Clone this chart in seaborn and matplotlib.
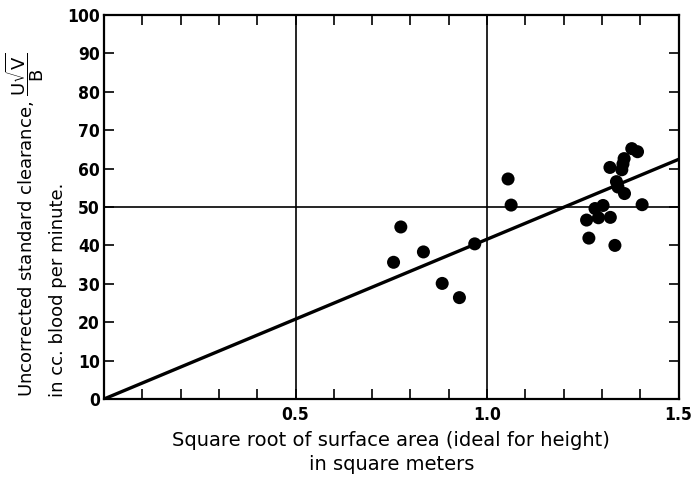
import numpy as np
import pandas as pd
import matplotlib
matplotlib.use("Agg")
import matplotlib.pyplot as plt
import seaborn as sns

# Data
x_vals = [0.756, 0.775, 0.834, 0.883, 0.928, 0.968, 1.055, 1.063, 1.260, 1.266,
          1.282, 1.291, 1.303, 1.322, 1.334, 1.321, 1.338, 1.342, 1.359, 1.352,
          1.355, 1.358, 1.378, 1.393, 1.405]
y_vals = [35.6, 44.8, 38.3, 30.1, 26.4, 40.4, 57.3, 50.5, 46.6, 41.9,
          49.6, 47.2, 50.4, 47.3, 40.0, 60.3, 56.6, 55.2, 53.5, 59.7,
          61.2, 62.6, 65.2, 64.4, 50.6]
line_x = [0.0, 1.5]
line_y = [0.0, 62.4]
y_ticks = [0, 10, 20, 30, 40, 50, 60, 70, 80, 90, 100]
x_tick_labels = {0.5: "0.5", 1.0: "1.0", 1.5: "1.5"}
grid_x = [0.5, 1.0]
grid_y = [50]

pts = pd.DataFrame({"x": x_vals, "y": y_vals})
reg = pd.DataFrame({"x": line_x, "y": line_y})

sns.set_style("white")
plt.rcParams["font.family"] = ["DejaVu Sans"]
plt.rcParams["text.color"] = "black"
plt.rcParams["mathtext.fontset"] = "dejavusans"

fig = plt.figure(figsize=(6.91, 4.84), dpi=100)
ax = fig.add_axes([104 / 691, 1 - 399 / 484, (678.5 - 104) / 691, (399 - 15) / 484])

for gx in grid_x:
    ax.axvline(gx, color="black", lw=1.2, zorder=1)
for gy in grid_y:
    ax.axhline(gy, color="black", lw=1.2, zorder=1)

sns.lineplot(data=reg, x="x", y="y", ax=ax, color="black", lw=2.4, zorder=2)
sns.scatterplot(data=pts, x="x", y="y", ax=ax, color="black", s=88,
                edgecolor="none", zorder=3, clip_on=False)

ax.set_xlim(0, 1.5)
ax.set_ylim(0, 100)

xt = np.round(np.arange(0, 1.5001, 0.1), 2)
ax.set_xticks(xt)
ax.set_xticklabels([x_tick_labels.get(round(float(v), 2), "") for v in xt])
ax.set_yticks(y_ticks)
ax.set_yticklabels([str(v) for v in y_ticks])

for lab in ax.get_xticklabels() + ax.get_yticklabels():
    lab.set_fontfamily("DejaVu Sans")
    lab.set_fontstretch("condensed")
    lab.set_fontweight("bold")
    lab.set_fontsize(12.5)
    lab.set_color("black")

ax.tick_params(direction="in", length=7, width=1.2, top=True, right=True,
               bottom=True, left=True, colors="black")
ax.tick_params(axis="x", pad=5)
ax.tick_params(axis="y", pad=3)
for s in ax.spines.values():
    s.set_visible(True)
    s.set_color("black")
    s.set_linewidth(1.6)

ax.set_xlabel("")
ax.set_ylabel("")

xc = (104 + 678.5) / 2 / 691
fig.text(xc, 1 - 440 / 484, "Square root of surface area (ideal for height)",
         ha="center", va="center", fontsize=14, color="black")
fig.text(xc, 1 - 465 / 484, "in square meters",
         ha="center", va="center", fontsize=14, color="black")

fig.text(25 / 691, 1 - 397 / 484,
         r"Uncorrected standard clearance, $\dfrac{\mathrm{U}\sqrt{\mathrm{V}}}{\mathrm{B}}$",
         rotation=90, ha="center", va="bottom", fontsize=13, color="black")
fig.text(58 / 691, 1 - 397 / 484, "in cc. blood per minute.",
         rotation=90, ha="center", va="bottom", fontsize=13, color="black")

fig.savefig("out.png", dpi=100)
